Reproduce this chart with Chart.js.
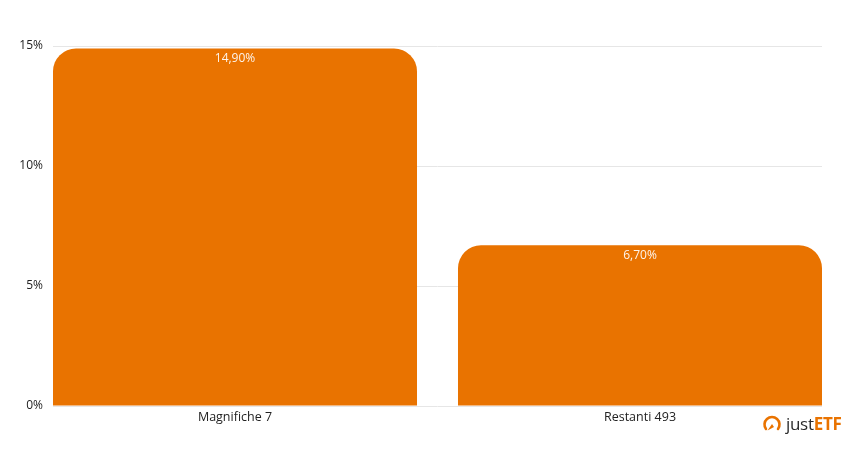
<!DOCTYPE html>
<html><head><meta charset="utf-8">
<script src="https://cdn.jsdelivr.net/npm/chart.js@4/dist/chart.umd.min.js"></script>
<style>
html,body{margin:0;padding:0;background:#fff;}
#wrap{position:relative;width:847px;height:450px;}
#logo{position:absolute;left:762px;top:412px;display:flex;align-items:center;font-family:"Open Sans",sans-serif;font-size:17px;letter-spacing:-0.3px;}
#logo .j{color:#2b2b2b;font-weight:500;}
#logo .e{color:#E97300;font-weight:700;}
</style></head>
<body><div id="wrap"><canvas id="c" width="847" height="450"></canvas>
<div id="logo"><svg width="20" height="20" viewBox="0 0 20 20" style="margin-right:4px"><path d="M4 15 A7.5 7.5 0 1 1 16 15" fill="none" stroke="#E97300" stroke-width="2.6" stroke-linecap="round"/><path d="M10 10 L5.5 16.5 L12 13 Z" fill="#E97300"/></svg><span class="j">just</span><span class="e">ETF</span></div></div>
<script>
const categories = ['Magnifiche 7', 'Restanti 493'];
const values = [14.9, 6.7];
const valueLabels = ['14,90%', '6,70%'];
const yTicks = [0, 5, 10, 15];

const barLabels = {
  id: 'barLabels',
  afterDatasetsDraw(chart) {
    const ctx = chart.ctx;
    const meta = chart.getDatasetMeta(0);
    ctx.save();
    ctx.fillStyle = 'rgba(255,255,255,0.92)';
    ctx.font = '12px "Open Sans", sans-serif';
    ctx.textAlign = 'center';
    ctx.textBaseline = 'middle';
    meta.data.forEach((el, i) => {
      ctx.fillText(valueLabels[i], el.x, el.y + 10);
    });
    ctx.restore();
  }
};

new Chart(document.getElementById('c'), {
  type: 'bar',
  data: {
    datasets: [{
      data: categories.map((c, i) => ({ x: i, y: values[i] })),
      backgroundColor: '#E97300',
      borderRadius: { topLeft: 23, topRight: 23, bottomLeft: 0, bottomRight: 0 },
      borderSkipped: 'bottom',
      barPercentage: 0.8988,
      categoryPercentage: 1
    }]
  },
  options: {
    responsive: false,
    animation: false,
    layout: { padding: { left: 0, right: 25, top: 46, bottom: 0 } },
    plugins: { legend: { display: false }, tooltip: { enabled: false } },
    scales: {
      x: {
        type: 'linear',
        offset: false,
        min: -0.4494,
        max: 1.4494,
        grid: { display: false, offset: false, drawTicks: false },
        border: { display: false },
        afterFit(s) { s.height = 44; },
        afterBuildTicks(s) { s.ticks = categories.map((c, i) => ({ value: i })); },
        ticks: {
          autoSkip: false,
          maxRotation: 0,
          padding: 4,
          color: '#222',
          font: { family: '"Open Sans", sans-serif', size: 12.5 },
          callback: (v) => categories[v] !== undefined ? categories[v] : ''
        }
      },
      y: {
        min: 0,
        max: 15,
        afterFit(s) { s.width = 53; },
        afterBuildTicks(s) { s.ticks = yTicks.map(v => ({ value: v })); },
        grid: { color: '#e6e6e6', lineWidth: 1, drawTicks: false },
        border: { display: false },
        ticks: {
          padding: 10,
          color: '#222',
          font: { family: '"Open Sans", sans-serif', size: 12 },
          callback: (v) => v + '%'
        }
      }
    }
  },
  plugins: [barLabels]
});
</script></body></html>
